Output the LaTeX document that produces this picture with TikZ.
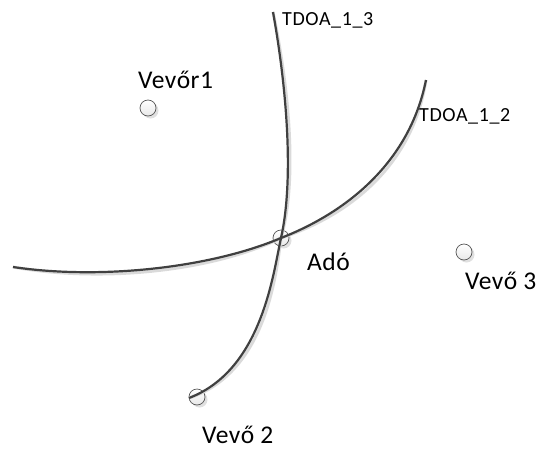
\documentclass[tikz,border=0pt]{standalone}
\usepackage{fontspec}
\setmainfont{Carlito}
\usetikzlibrary{shadows}
\definecolor{curveink}{HTML}{404040}
\definecolor{curveshade}{HTML}{DADADA}
\definecolor{ringink}{HTML}{555555}
\newfontfamily\labelfont[LetterSpace=2]{Carlito}
\newfontfamily\tdoafont[LetterSpace=3]{Carlito}
\begin{document}
\begin{tikzpicture}[x=1pt,y=-1pt,
  station/.style={circle, draw=ringink, line width=0.7pt, minimum size=16pt, inner sep=0pt,
    top color=white, bottom color=gray!18,
    drop shadow={shadow xshift=2.5pt, shadow yshift=-2.5pt, fill=black, opacity=0.12}},
  biglabel/.style={anchor=base west, inner sep=0pt, font=\labelfont\fontsize{25.5}{28}\selectfont},
  smalllabel/.style={anchor=base west, inner sep=0pt, font=\tdoafont\fontsize{20}{23}\selectfont},
  hyper/.style={draw=curveink, line width=2.2pt},
  hypershade/.style={draw=curveshade, line width=3pt}]
\useasboundingbox (0,0) rectangle (539,448);

% receivers and transmitter
\node[station] (rx1) at (148,108) {};
\node[station] (ado) at (281,238) {};
\node[station] (rx3) at (464,252) {};
\node[station] (rx2) at (197,397) {};

% curve end points
\coordinate (h13a) at (273,12);
\coordinate (h13b) at (189,398);
\coordinate (h12a) at (13,267);
\coordinate (h12b) at (426,80);

% shadows of the hyperbolas
\begin{scope}[shift={(3,3)}]
  \draw[hypershade] (h13a) .. controls (287,90) and (294,180) .. (ado.center)
     .. controls (273,274) and (262,370) .. (h13b);
  \draw[hypershade] (h12a) .. controls (100,280) and (210,268) .. (ado.center)
     .. controls (350,211) and (410,160) .. (h12b);
\end{scope}

% TDOA hyperbolas
\draw[hyper] (h13a) .. controls (287,90) and (294,180) .. (ado.center)
   .. controls (273,274) and (262,370) .. (h13b);
\draw[hyper] (h12a) .. controls (100,280) and (210,268) .. (ado.center)
   .. controls (350,211) and (410,160) .. (h12b);

% labels
\node[biglabel] (l1) at (138,88) {Vevőr1};
\node[biglabel] (l3) at (465,289) {Vevő 3};
\node[biglabel] (l2) at (202,443) {Vevő 2};
\node[biglabel] (la) at (307,270) {Adó};
\node[smalllabel] (t13) at (282,25) {TDOA\_1\_3};
\node[smalllabel] (t12) at (419,121) {TDOA\_1\_2};
\end{tikzpicture}
\end{document}
